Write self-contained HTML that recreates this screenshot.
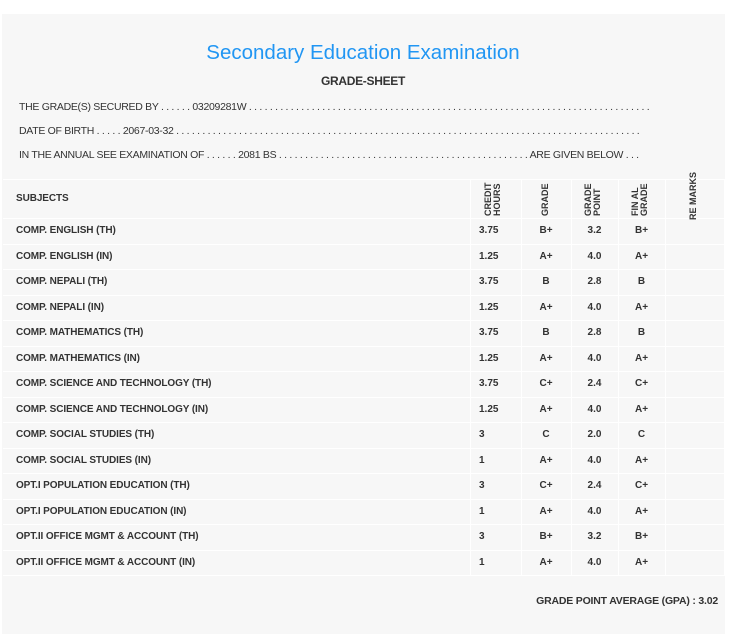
<!DOCTYPE html>
<html><head><style>
body{margin:0;width:742px;height:625px;background:#fff;position:relative;overflow:hidden;font-family:"Liberation Sans",sans-serif;color:#333}
#p{position:absolute;left:2px;top:14px;width:723px;height:620px;background:#f7f7f7}
.a{position:absolute;white-space:nowrap}
.l{font-size:10.5px;left:19px;letter-spacing:-0.3px}
.h{position:absolute;background:#fff;height:1px;left:3px;width:722px}
.v{position:absolute;background:#fff;width:1px;top:180px;height:395px}
.s{font-size:10px;font-weight:bold;left:16px;letter-spacing:-0.1px}
.c{font-size:10px;font-weight:bold;text-align:center}
.r{position:absolute;font-size:9px;font-weight:bold;line-height:9px;transform:rotate(-90deg);transform-origin:left top;white-space:nowrap}
</style></head><body>
<div id="p"></div>
<div class="a" style="left:0;width:726px;text-align:center;top:41px;font-size:20.5px;color:#2196f3">Secondary Education Examination</div>
<div class="a" style="left:0;width:726px;text-align:center;top:74px;font-size:12px;font-weight:bold;letter-spacing:-0.3px">GRADE-SHEET</div>
<div class="a l" style="top:101px">THE GRADE(S) SECURED BY . . . . . . 03209281W . . . . . . . . . . . . . . . . . . . . . . . . . . . . . . . . . . . . . . . . . . . . . . . . . . . . . . . . . . . . . . . . . . . . . . . . . . . . .</div>
<div class="a l" style="top:125px">DATE OF BIRTH . . . . . 2067-03-32 . . . . . . . . . . . . . . . . . . . . . . . . . . . . . . . . . . . . . . . . . . . . . . . . . . . . . . . . . . . . . . . . . . . . . . . . . . . . . . . . . . . . . . . . .</div>
<div class="a l" style="top:149px">IN THE ANNUAL SEE EXAMINATION OF . . . . . . 2081 BS . . . . . . . . . . . . . . . . . . . . . . . . . . . . . . . . . . . . . . . . . . . . . . . . ARE GIVEN BELOW . . .</div>
<div class="h" style="top:179px"></div>
<div class="h" style="top:218px"></div>
<div id="rows"></div>
<div class="v" style="left:470px"></div><div class="v" style="left:521px"></div><div class="v" style="left:571px"></div><div class="v" style="left:618px"></div><div class="v" style="left:665px"></div><div class="v" style="left:724px"></div>
<div class="a s" style="top:193px">SUBJECTS</div>
<div class="r" style="left:484px;top:216px">CREDIT<br>HOURS</div>
<div class="r" style="left:541px;top:216px">GRADE</div>
<div class="r" style="left:584px;top:216px">GRADE<br>POINT</div>
<div class="r" style="left:631px;top:216px">FIN AL<br>GRADE</div>
<div class="r" style="left:689px;top:220px">RE MARKS</div>
<div class="a" style="right:24px;top:595px;font-size:10.5px;font-weight:bold;letter-spacing:-0.2px">GRADE POINT AVERAGE (GPA) : 3.02</div>
<script>
var d=[["COMP. ENGLISH (TH)","3.75","B+","3.2","B+"],["COMP. ENGLISH (IN)","1.25","A+","4.0","A+"],["COMP. NEPALI (TH)","3.75","B","2.8","B"],["COMP. NEPALI (IN)","1.25","A+","4.0","A+"],["COMP. MATHEMATICS (TH)","3.75","B","2.8","B"],["COMP. MATHEMATICS (IN)","1.25","A+","4.0","A+"],["COMP. SCIENCE AND TECHNOLOGY (TH)","3.75","C+","2.4","C+"],["COMP. SCIENCE AND TECHNOLOGY (IN)","1.25","A+","4.0","A+"],["COMP. SOCIAL STUDIES (TH)","3","C","2.0","C"],["COMP. SOCIAL STUDIES (IN)","1","A+","4.0","A+"],["OPT.I POPULATION EDUCATION (TH)","3","C+","2.4","C+"],["OPT.I POPULATION EDUCATION (IN)","1","A+","4.0","A+"],["OPT.II OFFICE MGMT &amp; ACCOUNT (TH)","3","B+","3.2","B+"],["OPT.II OFFICE MGMT &amp; ACCOUNT (IN)","1","A+","4.0","A+"]];
var h="";d.forEach(function(r,i){var t=218+i*25.5;h+='<div class="h" style="top:'+Math.round(t+25.5)+'px"></div>';var y=Math.round(t+7);
h+='<div class="a s" style="top:'+y+'px">'+r[0]+'</div>';
h+='<div class="a c" style="left:479px;top:'+y+'px;text-align:left">'+r[1]+'</div>';
h+='<div class="a c" style="left:521px;width:50px;top:'+y+'px">'+r[2]+'</div>';
h+='<div class="a c" style="left:571px;width:47px;top:'+y+'px">'+r[3]+'</div>';
h+='<div class="a c" style="left:618px;width:47px;top:'+y+'px">'+r[4]+'</div>';});
document.getElementById("rows").innerHTML=h;
</script>
</body></html>
